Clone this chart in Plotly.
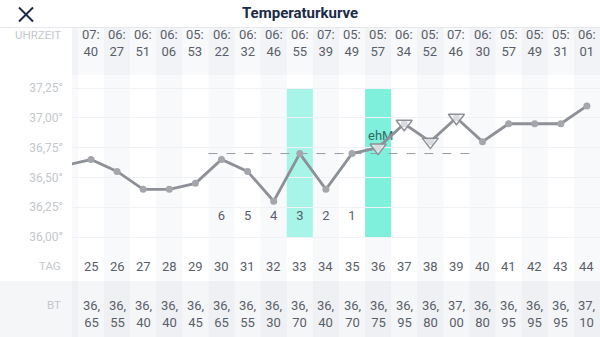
import plotly.graph_objects as go

# ---------------- data ----------------
days = list(range(25, 45))
bt = [36.65, 36.55, 36.40, 36.40, 36.45, 36.65, 36.55, 36.30, 36.70, 36.40,
      36.70, 36.75, 36.95, 36.80, 37.00, 36.80, 36.95, 36.95, 36.95, 37.10]
prev_day = 24
prev_bt = 36.60  # partially visible, off-screen left
times = ["07:40", "06:27", "06:51", "06:06", "05:53", "06:22", "06:32", "06:46",
         "06:55", "07:39", "05:49", "05:57", "06:34", "05:52", "07:46", "06:30",
         "05:57", "05:49", "05:31", "06:01"]
count_days = [30, 31, 32, 33, 34, 35]
count_labels = ["6", "5", "4", "3", "2", "1"]
marked_days = [36, 37, 38, 39]
marked_bt = [36.75, 36.95, 36.80, 37.00]
coverline_level = 36.70
coverline_days = [29.5, 39.5]
highlight_light = 33
highlight_dark = 36
mucus_day = 36.1
mucus_level = 36.84
mucus_text = "ehM"
ytick_vals = [36.00, 36.25, 36.50, 36.75, 37.00, 37.25]
ytick_text = ["36,00°", "36,25°", "36,50°", "36,75°", "37,00°", "37,25°"]

W, H = 600, 337
FONT = "Roboto"
GRAY_TXT = "#5a5e69"
LIGHT_TXT = "#c4c7cc"
NAVY = "#1b2a48"


def py(y):
    return 1 - y / H


def pxx(x):
    return x / W


fig = go.Figure()

fig.add_trace(go.Scatter(
    x=[mucus_day], y=[mucus_level], mode="text", text=[mucus_text],
    textfont=dict(family=FONT, size=13, color="#2f6a63"), hoverinfo="skip"))
fig.add_trace(go.Scatter(
    x=coverline_days, y=[coverline_level] * 2, mode="lines",
    line=dict(color="#9a9ca3", width=1, dash="dash"), hoverinfo="skip"))
fig.add_trace(go.Scatter(
    x=[prev_day] + days, y=[prev_bt] + bt, mode="lines+markers",
    line=dict(color="#8e9097", width=2.8),
    marker=dict(color="#a4a6ac", size=7), hoverinfo="skip"))
fig.add_trace(go.Scatter(
    x=marked_days, y=marked_bt, mode="markers",
    marker=dict(symbol="triangle-down", size=14, color="rgba(255,255,255,0.6)",
                line=dict(color="#8e9097", width=1.5)), hoverinfo="skip"))
fig.add_trace(go.Scatter(
    x=count_days, y=[36.168] * len(count_days), mode="text", text=count_labels,
    textfont=dict(family=FONT, size=13, color=GRAY_TXT), hoverinfo="skip"))

shapes = []
shapes.append(dict(type="rect", xref="paper", yref="paper", x0=pxx(72), x1=1,
                   y0=py(75), y1=py(27), fillcolor="#f8f9fb", line_width=0, layer="below"))
shapes.append(dict(type="rect", xref="paper", yref="paper", x0=0, x1=1,
                   y0=0, y1=py(281), fillcolor="#f5f6f8", line_width=0, layer="below"))
for d in [prev_day] + days:
    if d % 2 == 0:
        shapes.append(dict(type="rect", xref="x", yref="paper", x0=d - 0.5, x1=d + 0.5,
                           y0=0, y1=py(27), fillcolor="rgba(40,60,100,0.032)",
                           line_width=0, layer="below"))
shapes.append(dict(type="rect", xref="x", yref="y", x0=highlight_light - 0.5,
                   x1=highlight_light + 0.5, y0=36.0, y1=37.25,
                   fillcolor="#a6f5e8", line_width=0, layer="below"))
shapes.append(dict(type="rect", xref="x", yref="y", x0=highlight_dark - 0.5,
                   x1=highlight_dark + 0.5, y0=36.0, y1=37.25,
                   fillcolor="#7ef0dc", line_width=0, layer="below"))
shapes.append(dict(type="line", xref="paper", yref="paper", x0=0, x1=1,
                   y0=py(27.5), y1=py(27.5), line=dict(color="#e6e8ec", width=1)))
shapes.append(dict(type="line", xref="paper", yref="paper", x0=pxx(19), x1=pxx(33),
                   y0=py(7.5), y1=py(21.5), line=dict(color=NAVY, width=2)))
shapes.append(dict(type="line", xref="paper", yref="paper", x0=pxx(19), x1=pxx(33),
                   y0=py(21.5), y1=py(7.5), line=dict(color=NAVY, width=2)))

ann = []
ann.append(dict(text="<b>Temperaturkurve</b>", xref="paper", yref="paper", x=0.5, y=py(13),
                showarrow=False, font=dict(family=FONT, size=15, color=NAVY),
                xanchor="center", yanchor="middle"))
for lbl, y in [("UHRZEIT", 35), ("TAG", 266), ("BT", 305)]:
    ann.append(dict(text=lbl, xref="paper", yref="paper", x=pxx(63), y=py(y),
                    showarrow=False, font=dict(family=FONT, size=11.5, color=LIGHT_TXT),
                    xanchor="right", yanchor="middle"))
for d, t, v in zip(days, times, bt):
    h, m = t.split(":")
    ann.append(dict(text=f"{h}:<br>{m}", xref="x", yref="paper", x=d, y=py(43),
                    showarrow=False, font=dict(family=FONT, size=13, color=GRAY_TXT),
                    xanchor="center", yanchor="middle"))
    ann.append(dict(text=str(d), xref="x", yref="paper", x=d, y=py(266),
                    showarrow=False, font=dict(family=FONT, size=13, color=GRAY_TXT),
                    xanchor="center", yanchor="middle"))
    a, b = f"{v:.2f}".split(".")
    ann.append(dict(text=f"{a},<br>{b}", xref="x", yref="paper", x=d, y=py(313.5),
                    showarrow=False, font=dict(family=FONT, size=13, color=GRAY_TXT),
                    xanchor="center", yanchor="middle"))

px_per_day = 26.1
x_lo = 25 - (91 - 72) / px_per_day
x_hi = 25 + (600 - 91) / px_per_day
px_per_deg = 119.2
y_hi = 37.25 + 88 / px_per_deg
y_lo = 36.00 - (H - 237) / px_per_deg

fig.update_layout(
    width=W, height=H, margin=dict(l=0, r=0, t=0, b=0),
    paper_bgcolor="white", plot_bgcolor="rgba(0,0,0,0)",
    showlegend=False, shapes=shapes, annotations=ann,
    xaxis=dict(domain=[pxx(72), 1], range=[x_lo, x_hi], showgrid=False,
               zeroline=False, showticklabels=False, ticks="", showline=False, fixedrange=True),
    yaxis=dict(domain=[0, 1], range=[y_lo, y_hi], tickvals=ytick_vals, ticktext=ytick_text,
               showgrid=True, gridcolor="#f0f1f4", gridwidth=1, zeroline=False,
               ticks="", showline=False, ticklabelstandoff=8,
               tickfont=dict(family=FONT, size=12, color=LIGHT_TXT), fixedrange=True),
)

fig.write_html("out.html")
